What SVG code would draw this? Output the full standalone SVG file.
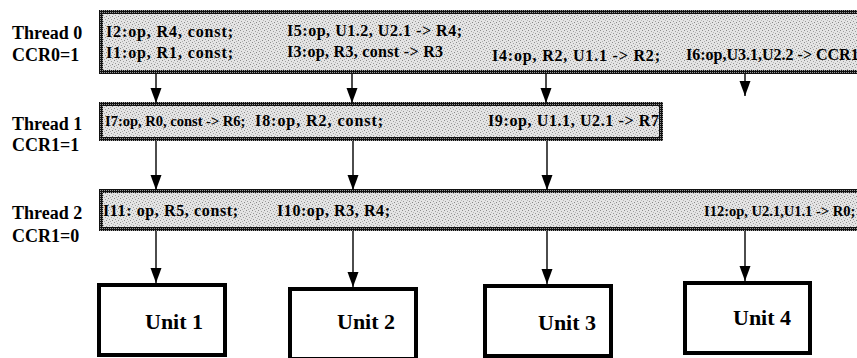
<svg xmlns="http://www.w3.org/2000/svg" width="857" height="358" viewBox="0 0 857 358">
<defs>
<pattern id="stip" width="6" height="6" patternUnits="userSpaceOnUse">
<rect width="6" height="6" fill="#e4e4e4"/>
<rect x="0" y="0" width="1" height="1" fill="#8c8c8c"/>
<rect x="3" y="1" width="1" height="1" fill="#a0a0a0"/>
<rect x="1" y="3" width="1" height="1" fill="#9a9a9a"/>
<rect x="4" y="4" width="1" height="1" fill="#888"/>
<rect x="5" y="2" width="1" height="1" fill="#b8b8b8"/>
<rect x="2" y="5" width="1" height="1" fill="#b0b0b0"/>
</pattern>
<pattern id="brd" width="2" height="2" patternUnits="userSpaceOnUse">
<rect width="2" height="2" fill="#111"/>
<rect x="0" y="0" width="1" height="1" fill="#999"/>
</pattern>
<marker id="ah" markerUnits="userSpaceOnUse" markerWidth="16" markerHeight="12" refX="15" refY="5.5" orient="auto">
<path d="M0,0 L15,5.5 L0,11 Z" fill="#000"/>
</marker>
</defs>
<style>
.lbl{font-family:"Liberation Serif","Times New Roman",serif;font-weight:bold;font-size:18px;fill:#000}
.ins{font-family:"Liberation Serif","Times New Roman",serif;font-weight:bold;font-size:16px;fill:#000}
.ins.sm{font-size:14.5px}
.unit{font-family:"Liberation Serif","Times New Roman",serif;font-weight:bold;font-size:22px;fill:#000}
.bar{fill:url(#stip);stroke:url(#brd);stroke-width:4}
.box{fill:#fff;stroke:#000;stroke-width:4}
.arr{stroke:#000;stroke-width:1.4;fill:none;marker-end:url(#ah)}
</style>

<g id="labels">
<text class="lbl" x="12" y="39">Thread 0</text>
<text class="lbl" x="12" y="61">CCR0=1</text>
<text class="lbl" x="12" y="130">Thread 1</text>
<text class="lbl" x="12" y="151">CCR1=1</text>
<text class="lbl" x="12" y="219">Thread 2</text>
<text class="lbl" x="12" y="242">CCR1=0</text>
</g>

<g id="thread0">
<rect class="bar" x="101" y="12" width="770" height="60"/>
<text class="ins" x="106" y="37" textLength="127" lengthAdjust="spacing">I2:op, R4, const;</text>
<text class="ins" x="287" y="36" textLength="175" lengthAdjust="spacing">I5:op, U1.2, U2.1 -&gt; R4;</text>
<text class="ins" x="106" y="58" textLength="127" lengthAdjust="spacing">I1:op, R1, const;</text>
<text class="ins" x="287" y="57" textLength="156" lengthAdjust="spacing">I3:op, R3, const -&gt; R3</text>
<text class="ins" x="492" y="61" textLength="168" lengthAdjust="spacing">I4:op, R2, U1.1 -&gt; R2;</text>
<text class="ins" x="686" y="60">I6:op,U3.1,U2.2 -&gt; CCR1</text>
</g>

<g id="thread1">
<rect class="bar" x="101" y="104" width="560" height="35"/>
<text class="ins sm" x="105" y="126">I7:op, R0, const -&gt; R6;</text>
<text class="ins" x="255" y="126" textLength="128" lengthAdjust="spacing">I8:op, R2, const;</text>
<text class="ins" x="488" y="126" textLength="171" lengthAdjust="spacing">I9:op, U1.1, U2.1 -&gt; R7</text>
</g>

<g id="thread2">
<rect class="bar" x="101" y="191" width="770" height="38"/>
<text class="ins" x="103" y="216" textLength="135" lengthAdjust="spacing">I11: op, R5, const;</text>
<text class="ins" x="277" y="216" textLength="113" lengthAdjust="spacing">I10:op, R3, R4;</text>
<text class="ins sm" x="704" y="216">I12:op, U2.1,U1.1 -&gt; R0;</text>
</g>

<g id="unit1">
<rect class="box" x="99" y="285" width="126" height="70"/>
<text class="unit" x="145" y="329">Unit 1</text>
</g>
<g id="unit2">
<rect class="box" x="290" y="289" width="126" height="70"/>
<text class="unit" x="337" y="329">Unit 2</text>
</g>
<g id="unit3">
<rect class="box" x="485" y="286" width="126" height="70"/>
<text class="unit" x="538" y="330">Unit 3</text>
</g>
<g id="unit4">
<rect class="box" x="685" y="283" width="125" height="70"/>
<text class="unit" x="733" y="325">Unit 4</text>
</g>

<g id="connectors">
<line class="arr" x1="156" y1="74" x2="156" y2="103"/>
<line class="arr" x1="352" y1="74" x2="352" y2="103"/>
<line class="arr" x1="546" y1="74" x2="546" y2="103"/>
<line class="arr" x1="745" y1="74" x2="745" y2="96"/>
<line class="arr" x1="156" y1="141" x2="156" y2="190"/>
<line class="arr" x1="353" y1="141" x2="353" y2="190"/>
<line class="arr" x1="547" y1="141" x2="547" y2="190"/>
<line class="arr" x1="156" y1="231" x2="156" y2="283"/>
<line class="arr" x1="353" y1="231" x2="353" y2="287"/>
<line class="arr" x1="547" y1="231" x2="547" y2="284"/>
<line class="arr" x1="745" y1="231" x2="745" y2="281"/>
</g>
</svg>
